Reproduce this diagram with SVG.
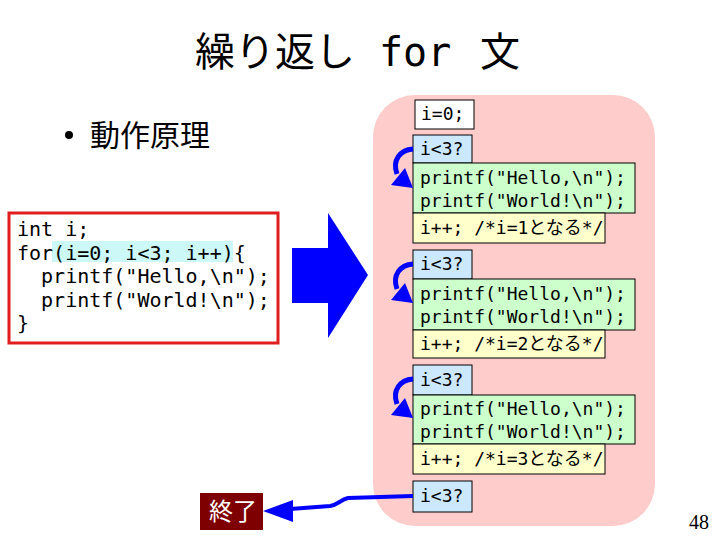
<svg xmlns="http://www.w3.org/2000/svg" width="720" height="540" viewBox="0 0 720 540">
<style>
.mono{font-family:"DejaVu Sans Mono","Liberation Mono","Noto Sans CJK JP",monospace;fill:#000}
.code{font-size:20px}
.small{font-size:18px}
.jp{font-family:"Noto Sans CJK JP","Liberation Sans",sans-serif}
.box{stroke:#000;stroke-width:1}
.cond{fill:#cce8ff}
.body{fill:#ccffcc}
.inc{fill:#ffffcc}
.blue{fill:#0000ff}
</style>
<defs>
<g id="loop">
<path d="M413,149 C400,150 392,160 397,174" fill="none" stroke="#0000ff" stroke-width="5"/>
<polygon points="391,185 413,188 405,168" fill="#0000ff"/>
</g>
</defs>
<rect width="720" height="540" fill="#fff"/>
<g id="title">
<text y="66" font-size="40"><tspan class="jp" x="195">繰り返し</tspan><tspan class="mono" x="379">for</tspan><tspan class="jp" x="480">文</tspan></text>
</g>
<g id="bullet">
<circle cx="69" cy="135" r="4" fill="#000"/>
<text x="90" y="146" class="jp" font-size="30">動作原理</text>
</g>
<g id="code">
<rect x="9" y="213" width="269" height="130" fill="#fff" stroke="#e01e1e" stroke-width="3"/>
<rect x="52" y="241" width="181" height="21" fill="#ccf8f8"/>
<text class="mono code" xml:space="preserve"><tspan x="17" y="236">int i;</tspan><tspan x="17" y="259.5">for(i=0; i&lt;3; i++){</tspan><tspan x="17" y="283">  printf("Hello,\n");</tspan><tspan x="17" y="306.5">  printf("World!\n");</tspan><tspan x="17" y="330">}</tspan></text>
</g>
<g id="bigArrow">
<polygon class="blue" points="292,248 328,248 328,213 368,275 328,338 328,303 292,303"/>
</g>
<g id="flow">
<rect x="373" y="95" width="282" height="431" rx="42" ry="42" fill="#ffcccc"/>
</g>
<g id="init">
<rect class="box" x="415" y="100" width="59" height="29" fill="#fff"/>
<text class="mono small" x="421" y="120">i=0;</text>
</g>
<g id="iter1">
<rect class="box cond" x="413" y="135" width="59" height="28"/>
<text class="mono small" x="420" y="155">i&lt;3?</text>
<rect class="box body" x="413" y="163" width="222" height="50"/>
<text class="mono small"><tspan x="420" y="184">printf("Hello,\n");</tspan><tspan x="420" y="207">printf("World!\n");</tspan></text>
<rect class="box inc" x="413" y="213" width="192" height="30"/>
<text class="mono small" x="420" y="234" xml:space="preserve">i++; /*i=1となる*/</text>
</g>
<g id="iter2" transform="translate(0,115)">
<rect class="box cond" x="413" y="135" width="59" height="29"/>
<text class="mono small" x="420" y="155">i&lt;3?</text>
<rect class="box body" x="413" y="164" width="222" height="51"/>
<text class="mono small"><tspan x="420" y="185">printf("Hello,\n");</tspan><tspan x="420" y="208">printf("World!\n");</tspan></text>
<rect class="box inc" x="413" y="215" width="192" height="28"/>
<text class="mono small" x="420" y="235" xml:space="preserve">i++; /*i=2となる*/</text>
</g>
<g id="iter3" transform="translate(0,230)">
<rect class="box cond" x="413" y="135" width="59" height="30"/>
<text class="mono small" x="420" y="156">i&lt;3?</text>
<rect class="box body" x="413" y="165" width="222" height="49"/>
<text class="mono small"><tspan x="420" y="185">printf("Hello,\n");</tspan><tspan x="420" y="208">printf("World!\n");</tspan></text>
<rect class="box inc" x="413" y="214" width="192" height="30"/>
<text class="mono small" x="420" y="235" xml:space="preserve">i++; /*i=3となる*/</text>
</g>
<g id="final">
<rect class="box cond" x="413" y="481" width="59" height="31"/>
<text class="mono small" x="420" y="502">i&lt;3?</text>
</g>
<g id="end">
<rect x="200" y="493" width="63" height="37" fill="#7f0000"/>
<text x="209" y="520" class="jp" font-size="24" fill="#fff">終了</text>
</g>
<g id="connectors">
<use href="#loop"/>
<use href="#loop" transform="translate(0,115)"/>
<use href="#loop" transform="translate(0,230)"/>
<path d="M413,496 L348,498 C340,500 338,505 330,506 L290,509" fill="none" stroke="#0000ff" stroke-width="4"/>
<polygon points="263,511 293,500 293,522" fill="#0000ff"/>
</g>
<g id="page">
<text x="689" y="529" font-family="Liberation Serif,serif" font-size="20">48</text>
</g>
</svg>
